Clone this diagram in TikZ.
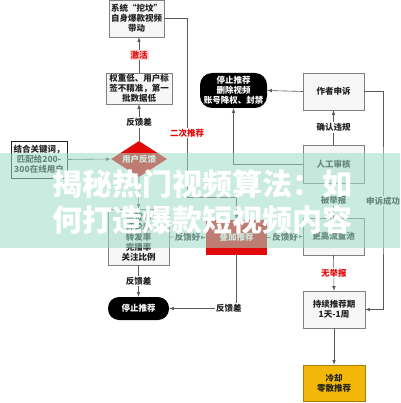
\documentclass[tikz,border=0pt]{standalone}
\usepackage{fontspec}
\setmainfont{Noto Sans CJK SC}
\usepackage{tikz}
\usetikzlibrary{shapes, arrows, arrows.meta, calc}
\definecolor{ink}{RGB}{34,34,34}
\definecolor{boxline}{RGB}{128,128,128}
\definecolor{boxfill}{RGB}{246,246,246}
\definecolor{wire}{RGB}{90,90,90}
\definecolor{alarm}{RGB}{225,10,10}
\definecolor{coolfill}{RGB}{242,183,8}
\definecolor{coolline}{RGB}{170,125,0}
\definecolor{blush}{RGB}{250,214,214}
\definecolor{bannerbg}{RGB}{160,220,200}
\newcommand{\boxfont}{\fontsize{8.5pt}{10pt}\selectfont\bfseries}
\newcommand{\bannerfont}{\fontsize{30pt}{36pt}\selectfont\bfseries}
\tikzstyle{stage} = [rectangle, draw=boxline, fill=boxfill, text=ink,
    align=center, font=\boxfont, minimum width=61pt, minimum height=37pt, inner sep=1pt]
\tikzstyle{halt} = [rectangle, rounded corners=11pt, fill=black, text=white,
    align=center, font=\boxfont, minimum width=61pt, minimum height=23pt, inner sep=1pt]
\tikzstyle{check} = [diamond, fill=alarm, text=white, font=\boxfont,
    aspect=1.55, minimum width=56pt, minimum height=36pt, inner sep=0pt]
\tikzstyle{boost} = [rectangle, fill=alarm, text=white, font=\boxfont,
    minimum width=61pt, minimum height=35pt, inner sep=1pt]
\tikzstyle{cool} = [stage, draw=coolline, fill=coolfill]
\tikzstyle{tag} = [fill=white, text=ink, font=\boxfont, inner sep=1pt]
\tikzstyle{redtag} = [tag, text=alarm]
\tikzstyle{line} = [draw=wire, line width=0.6pt, -latex]
\tikzstyle{banner} = [text=white, font=\bannerfont, align=center, inner sep=0pt]

\begin{document}
\begin{tikzpicture}[x=1pt, y=-1pt]
    \fill [white] (0,0) rectangle (400,403);
    \useasboundingbox (0,0) rectangle (400,403);
    % Nodes
    \node [stage, minimum width=55pt] (sys) at (136.5,18.5) {系统“挖坟”\\自身爆款视频\\带动};
    \node [stage, minimum width=66pt, minimum height=31pt] (weight) at (139,88.5) {权重低、用户标\\签不精准，第一\\批数据低};
    \node [stage, minimum width=56pt, draw=ink, fill=white] (seed) at (39,159.5) {结合关键词，\\匹配给200-\\300在线用户};
    \node [check] (react) at (139,159) {用户反馈};
    \node [stage, minimum height=56pt] (metric) at (138.5,237) {点赞率\\评论率\\转发率\\完播率\\关注比例};
    \node [halt] (stopb) at (138.5,308.5) {停止推荐};
    \node [boost] (stack) at (236.5,237.5) {叠加推荐};
    \node [halt, minimum width=67pt, minimum height=35pt, rounded corners=12pt] (ban) at (233.5,90.5) {停止推荐\\删除视频\\账号降权、封禁};
    \node [stage] (appeal) at (333.5,91.5) {作者申诉};
    \node [stage, minimum height=38pt] (review) at (333.5,164) {人工审核};
    \node [stage] (pool) at (333.5,236.5) {更高流量池};
    \node [stage, minimum width=62pt] (keep) at (334,309.5) {持续推荐期\\1天-1周};
    \node [cool, minimum width=62pt, minimum height=36pt] (cold) at (334,383) {冷却\\零散推荐};
    \coordinate (dig) at (187,197);
    \coordinate (rail) at (383,201);
    % Edges
    \path [line] (weight.north) -- node [tag, fill=blush, text=alarm] {激活} (weight.north |- sys.south);
    \path [line] (react.north) -- node [tag] {反馈差} (weight.south);
    \path [line] (seed.east) -- (react.west);
    \path [line] (react.south) -- (metric.north);
    \path [line] (metric.east) -- node [tag] {反馈好} (stack.west);
    \path [line] (stack.east) -- node [tag] {反馈好} (pool.west);
    \path [line] (metric.south) -- node [tag] {反馈差} (stopb.north);
    \path [line] (stack.south) |- node [tag, pos=0.556] {反馈差} (stopb.east);
    \path [line] (sys.east) -| node [redtag, pos=0.821] {二次推荐} (dig) -| (stack.north);
    \path [line] (review.west) -| (ban.south);
    \path [line] (review.north) -- node [tag] {确认违规} (appeal.south);
    \path [line] (appeal.west) -- (ban.east);
    \path [line] (appeal.east) -| (rail) node [tag] {申诉成功} |- (keep.east);
    \path [line] (pool.north) -- node [tag] {被举报} (review.south);
    \path [line] (pool.south) -- node [redtag] {无举报} (keep.north);
    \path [line] (keep.south) -- (cold.north);
    % Banner
    \fill [bannerbg, fill opacity=0.55] (0,153) rectangle (400,248);
    \node [banner] (headline) at (202,202) {揭秘热门视频算法：如\\何打造爆款短视频内容};
\end{tikzpicture}
\end{document}
